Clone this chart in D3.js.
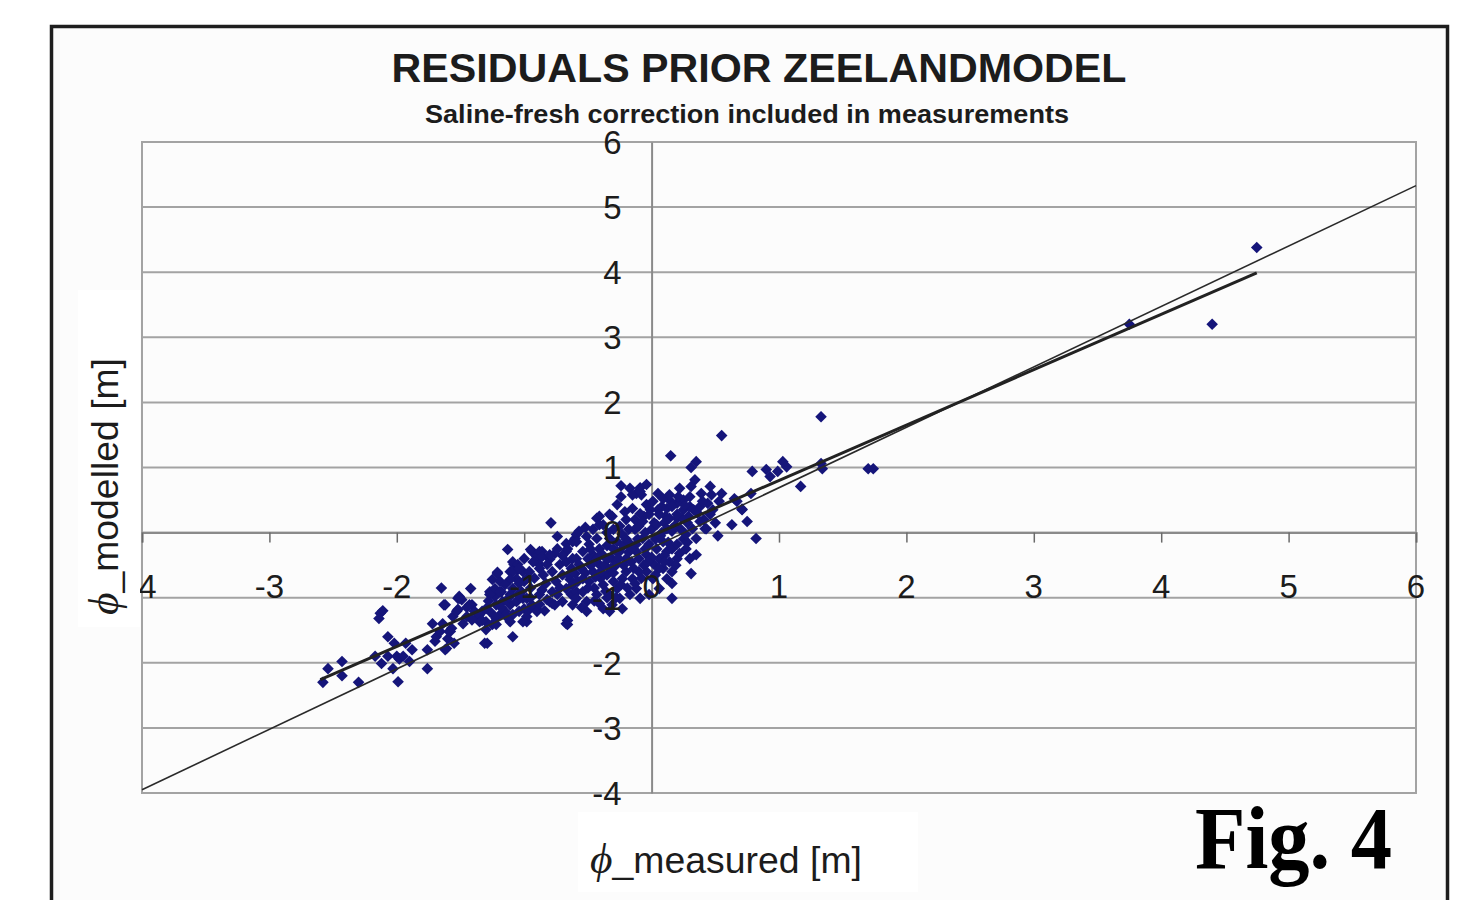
<!DOCTYPE html>
<html>
<head>
<meta charset="utf-8">
<script src="https://cdn.jsdelivr.net/npm/d3@7"></script>
<style>
  html, body { margin: 0; padding: 0; background: #ffffff; }
  svg { display: block; }
</style>
</head>
<body>
<svg id="chart" width="1463" height="900"></svg>
<script>
// ---------- data ----------
const chartTitle = "RESIDUALS PRIOR ZEELANDMODEL";
const chartSubtitle = "Saline-fresh correction included in measurements";
const xAxisTitle = "_measured [m]";
const yAxisTitle = "_modelled [m]";
const figLabel = "Fig. 4";
const xTicks = [-4, -3, -2, -1, 0, 1, 2, 3, 4, 5, 6];
const yTicks = [-4, -3, -2, -1, 0, 1, 2, 3, 4, 5, 6];
const xDomain = [-4, 6];
const yDomain = [-4, 6];

// reference line (thin) and fitted trend line (thick), as [measured, modelled]
const referenceLine = [[-4, -3.95], [6, 5.33]];
const trendLine = [[-2.6, -2.26], [4.75, 3.99]];

// residual points: [phi_measured, phi_modelled]
const residualPoints = [
  // lower tail
  [-2.58,-2.30],[-2.54,-2.09],[-2.43,-1.98],[-2.43,-2.20],[-2.30,-2.30],
  [-2.13,-1.24],[-2.11,-1.20],[-2.14,-1.32],[-2.07,-1.60],[-2.02,-1.70],
  [-2.17,-1.90],[-2.12,-2.01],[-2.07,-1.90],[-2.00,-1.90],[-1.98,-1.94],[-1.95,-1.90],
  [-2.03,-2.09],[-1.99,-2.29],[-1.93,-1.70],[-1.88,-1.80],[-1.90,-1.98],
  [-1.76,-2.09],[-1.76,-1.80],[-1.70,-1.67],[-1.69,-1.60],[-1.66,-1.52],
  [-1.72,-1.40],[-1.64,-1.40],[-1.65,-0.85],[-1.63,-1.11],[-1.62,-1.80],
  [-1.60,-1.63],[-1.58,-1.52],[-1.57,-1.47],[-1.56,-1.29],[-1.53,-1.21],[-1.52,-1.01],[-1.55,-1.70],
  [-1.42,-0.86],[-1.51,-0.98],[-1.49,-1.03],[-1.41,-1.11],[-1.33,-1.21],[-1.30,-1.17],
  [-1.35,-1.37],[-1.37,-1.32],[-1.30,-1.49],[-1.29,-1.70],[-1.31,-1.70],
  [-1.22,-1.32],[-1.25,-1.41],[-1.19,-1.26],[-1.14,-1.29],[-1.09,-1.26],[-1.11,-1.37],[-1.09,-1.60],
  [-1.59,-1.52],[-1.61,-1.78],
  // left part of cluster
  [-1.13,-0.26],[-1.21,-0.61],[-1.25,-0.72],[-1.19,-0.75],
  [-1.27,-0.91],[-1.23,-0.98],[-1.18,-0.91],[-1.22,-1.11],
  [-1.11,-0.60],[-1.08,-0.49],[-1.05,-0.57],[-1.06,-0.71],[-1.09,-0.86],[-1.11,-0.95],
  [-1.00,-0.75],[-1.02,-0.91],[-0.98,-1.01],[-1.00,-1.17],[-0.98,-1.37],
  [-0.94,-0.29],[-0.90,-0.37],[-0.86,-0.29],[-0.88,-0.49],
  [-0.79,0.15],[-0.74,-0.06],[-0.67,-0.17],[-0.60,-0.09],
  [-0.90,-1.18],[-0.78,-1.09],[-0.67,-1.40],
  [-0.95,-0.26],[-0.88,-0.29],[-0.86,-0.37],[-0.80,-0.41],[-0.76,-0.32],[-0.82,-0.49],
  [-0.66,-0.25],[-0.62,-0.14],[-0.59,-0.03],
  [-0.72,-0.49],[-0.67,-0.45],[-0.63,-0.55],[-0.70,-0.65],[-0.64,-0.72],[-0.60,-0.63],
  [-1.09,-0.45],[-1.05,-0.49],[-1.09,-0.60],[-1.01,-0.60],[-1.11,-0.72],[-1.04,-0.78],[-0.98,-0.71],
  [-1.21,-0.63],[-1.23,-0.86],[-1.19,-0.91],[-1.27,-0.95],
  [-1.51,-1.01],[-1.52,-1.18],[-1.62,-1.11],
  [-1.43,-1.11],[-1.39,-1.21],[-1.45,-1.29],[-1.41,-1.34],[-1.35,-1.26],
  [-1.27,-1.21],[-1.23,-1.29],[-1.30,-1.37],[-1.22,-1.41],[-1.15,-1.21],[-1.11,-1.11],[-1.17,-1.06],
  [-1.06,-1.06],[-1.01,-1.01],[-1.04,-1.21],[-0.98,-1.29],[-1.01,-1.37],[-0.96,-1.18],[-0.90,-1.21],[-0.94,-1.11],
  [-0.88,-0.95],[-0.82,-1.03],[-0.86,-0.88],[-0.78,-0.91],[-0.80,-1.06],[-0.74,-0.95],[-0.70,-1.06],[-0.76,-1.11],
  [-0.67,-0.86],[-0.62,-0.80],[-0.63,-0.95],[-0.59,-0.91],[-0.66,-1.41],
  [-0.93,-0.45],[-0.88,-0.55],[-0.96,-0.60],[-1.04,-0.55],
  [-0.80,-0.34],[-0.74,-0.25],[-0.67,-0.29],
  [-1.15,-0.80],[-1.12,-1.00],[-1.05,-0.95],[-0.95,-0.85],[-0.92,-0.70],[-0.85,-0.65],[-0.83,-0.78],[-0.78,-0.60],
  [-0.75,-0.75],[-0.72,-0.85],[-0.70,-0.35],[-0.65,-0.65],[-0.62,-0.40],[-0.58,-0.75],[-0.55,-0.55],[-0.52,-0.62],
  [-1.00,-0.40],[-0.95,-1.00],[-0.88,-1.10],[-0.84,-1.20],[-1.18,-1.15],[-1.28,-1.05],[-1.33,-1.35],[-1.45,-1.15],
  [-1.48,-1.40],[-0.55,-1.15],[-0.45,-1.05],[-0.35,-1.00],
  // central cluster
  [-0.57,0.02],[-0.51,-0.06],[-0.59,-0.14],[-0.49,-0.18],[-0.43,-0.09],[-0.54,-0.29],[-0.46,-0.34],[-0.41,-0.25],[-0.59,-0.40],
  [-0.33,-0.09],[-0.27,-0.14],[-0.23,-0.03],[-0.17,-0.17],[-0.25,-0.29],[-0.31,-0.40],[-0.20,-0.40],[-0.12,-0.18],[-0.12,-0.29],[-0.16,-0.45],
  [-0.07,-0.09],[-0.02,-0.18],[-0.04,-0.34],[0.04,-0.25],[0.09,-0.14],[0.06,-0.40],[0.12,-0.29],[0.16,-0.25],[0.14,-0.45],[0.20,-0.40],[0.02,-0.49],[0.09,-0.55],[0.16,-0.60],
  [-0.57,-0.49],[-0.62,-0.60],[-0.54,-0.71],[-0.46,-0.60],[-0.49,-0.75],[-0.41,-0.49],[-0.35,-0.65],[-0.38,-0.80],[-0.54,-0.91],[-0.59,-1.01],
  [-0.51,-1.06],[-0.62,-1.11],[-0.43,-0.95],[-0.33,-0.95],[-0.27,-0.86],[-0.23,-0.71],[-0.20,-0.60],[-0.15,-0.71],[-0.12,-0.86],[-0.17,-0.95],
  [-0.25,-1.01],[-0.31,-1.11],[-0.38,-1.17],[-0.23,-1.17],[-0.09,-1.01],[-0.02,-0.95],[0.06,-0.86],[0.12,-0.71],[0.01,-0.71],[-0.04,-0.60],
  [-0.13,-0.78],[-0.41,-1.09],[-0.33,-1.21],[-0.66,-1.35],[-0.51,-1.21],[0.06,-0.55],
  [-0.50,-0.40],[-0.45,-0.45],[-0.38,-0.35],[-0.35,-0.20],[-0.30,-0.25],[-0.28,-0.50],[-0.22,-0.50],[-0.18,-0.30],[-0.10,-0.40],[-0.06,-0.50],
  [0.00,-0.38],[0.03,-0.10],[0.00,0.05],[-0.05,0.00],[-0.18,0.05],[-0.25,0.10],[-0.30,0.05],[-0.20,0.20],[-0.35,0.00],[0.08,0.00],
  [0.10,0.15],[0.25,0.35],[0.28,0.15],[0.30,0.40],[0.25,0.50],[-0.48,-0.25],[-0.40,-0.70],[-0.30,-0.75],[-0.10,-0.60],[-0.28,-1.00],
  [-0.45,-0.85],[0.05,0.35],[0.20,0.45],[0.10,-0.35],[0.25,-0.10],[-0.52,0.08],[-0.46,0.05],
  [-0.50,-0.85],[-0.48,-0.50],[-0.44,-0.68],[-0.42,-0.38],[-0.40,-0.60],[-0.37,-0.50],[-0.36,-0.90],[-0.34,-0.40],
  [-0.32,-0.55],[-0.30,-0.62],[-0.27,-0.30],[-0.26,-0.40],[-0.24,-0.80],[-0.22,-0.20],[-0.20,-0.10],[-0.19,-0.85],
  [-0.16,-0.25],[-0.14,-0.55],[-0.13,0.05],[-0.11,-0.10],[-0.10,0.10],[-0.08,-0.70],[-0.06,0.25],[-0.05,-0.25],
  [-0.03,-0.45],[-0.01,0.35],[0.02,0.15],[0.03,-0.65],[0.05,0.60],[0.07,-0.05],[0.08,0.40],[0.10,-0.45],
  [0.11,0.25],[0.13,-0.15],[0.15,0.48],[0.18,0.10],[0.19,-0.50],[0.21,0.55],[0.23,0.05],[0.26,0.42],
  [0.28,-0.15],[0.29,0.25],[0.33,0.35],[0.36,0.30],[0.38,0.40],[0.41,0.20],[0.44,0.45],[0.48,0.35],[0.50,0.15],
  // upper part of cluster
  [-0.24,0.72],[-0.17,0.68],[-0.09,0.69],[-0.04,0.74],[-0.08,0.58],[-0.12,0.60],[-0.27,0.43],[-0.21,0.32],[-0.31,0.25],[-0.38,0.12],
  [-0.41,0.25],[-0.15,0.37],[-0.09,0.29],[-0.04,0.43],[-0.02,0.28],[-0.13,0.20],[-0.07,0.17],[0.01,0.48],[0.09,0.52],[0.14,0.58],
  [0.12,0.37],[0.16,0.40],[0.06,0.28],[0.14,0.22],[0.20,0.22],[0.04,0.12],[0.12,0.06],[0.16,0.02],
  [-0.43,0.22],[-0.41,0.12],[-0.33,0.28],[-0.24,0.55],[-0.15,0.58],[-0.09,0.63],
  // right part of cluster
  [0.75,0.17],[0.82,-0.09],[0.63,0.12],[0.52,-0.05],[0.71,0.35],[0.42,0.06],[0.31,-0.63],[0.16,-0.78],[0.16,-1.01],
  [0.34,0.81],[0.31,0.71],[0.22,0.68],[0.39,0.60],[0.30,0.55],[0.46,0.71],[0.47,0.58],[0.55,0.60],[0.53,0.48],[0.40,0.48],[0.67,0.48],[0.78,0.60],
  [0.46,0.28],[0.38,0.17],[0.43,0.06],[0.32,0.06],[0.24,0.22],[0.20,0.28],[0.16,0.06],[0.27,-0.03],[0.35,-0.09],[0.20,-0.18],
  [0.27,-0.25],[0.35,-0.34],[0.30,-0.40],[0.22,-0.32],[0.65,0.52],[0.71,0.36],
  // sparse upper points and outliers
  [0.55,1.49],[0.15,1.18],[0.35,1.09],[0.31,1.00],
  [0.79,0.94],[0.90,0.97],[0.93,0.86],[0.99,0.94],[1.03,1.09],[1.06,1.01],
  [1.17,0.71],[1.33,1.78],[1.33,1.06],[1.34,0.98],
  [1.70,0.98],[1.74,0.98],
  [3.75,3.20],[4.40,3.20],[4.75,4.38]
];

// ---------- drawing ----------
const svg = d3.select("#chart");
const plot = { left: 142, right: 1416, top: 142, bottom: 793 };

const x = d3.scaleLinear().domain(xDomain).range([plot.left, plot.right]);
const y = d3.scaleLinear().domain(yDomain).range([plot.bottom, plot.top]);

const gridColor = "#a3a3a3";
const textColor = "#1c1c1c";
const markerColor = "#15157a";

// outer frame
svg.append("rect")
  .attr("x", 51.5).attr("y", 26.5)
  .attr("width", 1396).attr("height", 900)
  .attr("fill", "#fcfcfc")
  .attr("stroke", "#1e1e1e").attr("stroke-width", 3.5);

// titles
svg.append("text")
  .attr("x", 759).attr("y", 82)
  .attr("text-anchor", "middle")
  .attr("font-family", "'Liberation Sans', Arial, sans-serif")
  .attr("font-weight", "bold").attr("font-size", 41)
  .attr("textLength", 735).attr("lengthAdjust", "spacingAndGlyphs")
  .attr("fill", textColor)
  .text(chartTitle);

svg.append("text")
  .attr("x", 747).attr("y", 123)
  .attr("text-anchor", "middle")
  .attr("font-family", "'Liberation Sans', Arial, sans-serif")
  .attr("font-weight", "bold").attr("font-size", 25)
  .attr("textLength", 644).attr("lengthAdjust", "spacingAndGlyphs")
  .attr("fill", textColor)
  .text(chartSubtitle);

// plot area
svg.append("rect")
  .attr("x", plot.left).attr("y", plot.top)
  .attr("width", plot.right - plot.left).attr("height", plot.bottom - plot.top)
  .attr("fill", "#fcfcfc")
  .attr("stroke", gridColor).attr("stroke-width", 2);

// horizontal gridlines
svg.append("g").selectAll("line")
  .data(yTicks)
  .join("line")
  .attr("x1", plot.left).attr("x2", plot.right)
  .attr("y1", d => y(d)).attr("y2", d => y(d))
  .attr("stroke", gridColor).attr("stroke-width", 2);

// x axis (at y = 0) with ticks
const xAxisG = svg.append("g")
  .attr("transform", `translate(0,${y(0)})`)
  .call(d3.axisBottom(x).tickValues(xTicks).tickSize(10).tickFormat(""));
xAxisG.select(".domain").attr("stroke", "#8a8a8a").attr("stroke-width", 2);
xAxisG.selectAll(".tick line").attr("stroke", "#6a6a6a").attr("stroke-width", 1.5);

// y axis (at x = 0)
const yAxisG = svg.append("g")
  .attr("transform", `translate(${x(0)},0)`)
  .call(d3.axisLeft(y).tickValues(yTicks).tickSize(0).tickFormat(""));
yAxisG.select(".domain").attr("stroke", "#8a8a8a").attr("stroke-width", 2);

// white boxes behind axis titles
svg.append("rect")
  .attr("x", 78).attr("y", 290).attr("width", 62).attr("height", 337)
  .attr("fill", "#ffffff");
svg.append("rect")
  .attr("x", 578).attr("y", 812).attr("width", 340).attr("height", 80)
  .attr("fill", "#ffffff");

// markers
const diamond = "M0,-5.8L5.8,0L0,5.8L-5.8,0Z";
svg.append("g").selectAll("path")
  .data(residualPoints)
  .join("path")
  .attr("d", diamond)
  .attr("transform", d => `translate(${x(d[0])},${y(d[1])})`)
  .attr("fill", markerColor);

// lines
const lineGen = d3.line().x(d => x(d[0])).y(d => y(d[1]));
svg.append("path")
  .datum(referenceLine)
  .attr("d", lineGen)
  .attr("fill", "none")
  .attr("stroke", "#2a2a2a").attr("stroke-width", 1.6);
svg.append("path")
  .datum(trendLine)
  .attr("d", lineGen)
  .attr("fill", "none")
  .attr("stroke", "#222222").attr("stroke-width", 3);

// tick labels
svg.append("g").selectAll("text")
  .data(yTicks)
  .join("text")
  .attr("x", x(0) - 30)
  .attr("y", d => y(d))
  .attr("dy", "0.36em")
  .attr("text-anchor", "end")
  .attr("font-family", "'Liberation Sans', Arial, sans-serif")
  .attr("font-size", 33)
  .attr("fill", textColor)
  .text(d => d);

svg.append("g").selectAll("text")
  .data(xTicks)
  .join("text")
  .attr("x", d => x(d))
  .attr("y", y(0) + 54)
  .attr("dy", "0.36em")
  .attr("text-anchor", "middle")
  .attr("font-family", "'Liberation Sans', Arial, sans-serif")
  .attr("font-size", 33)
  .attr("fill", textColor)
  .text(d => d);

// the y-title box sits on top of the leftmost x label's minus sign
svg.append("rect")
  .attr("x", 78).attr("y", 560).attr("width", 62).attr("height", 67)
  .attr("fill", "#ffffff");

// axis titles
const xt = svg.append("text")
  .attr("x", 590).attr("y", 873)
  .attr("font-family", "'Liberation Sans', Arial, sans-serif")
  .attr("font-size", 37)
  .attr("textLength", 272).attr("lengthAdjust", "spacingAndGlyphs")
  .attr("fill", textColor);
xt.append("tspan")
  .attr("font-family", "'Liberation Serif', 'DejaVu Serif', serif")
  .attr("font-style", "italic").attr("font-size", 43)
  .text("ϕ");
xt.append("tspan").text(xAxisTitle);

const yt = svg.append("text")
  .attr("transform", "translate(118,615) rotate(-90)")
  .attr("font-family", "'Liberation Sans', Arial, sans-serif")
  .attr("font-size", 37)
  .attr("textLength", 257).attr("lengthAdjust", "spacingAndGlyphs")
  .attr("fill", textColor);
yt.append("tspan")
  .attr("font-family", "'Liberation Serif', 'DejaVu Serif', serif")
  .attr("font-style", "italic").attr("font-size", 43)
  .text("ϕ");
yt.append("tspan").text(yAxisTitle);

// figure label
svg.append("text")
  .attr("x", 1195).attr("y", 868)
  .attr("font-family", "'Liberation Serif', 'Times New Roman', serif")
  .attr("font-weight", "bold").attr("font-size", 88)
  .attr("textLength", 197).attr("lengthAdjust", "spacingAndGlyphs")
  .attr("fill", "#000000")
  .text(figLabel);
</script>
</body>
</html>
